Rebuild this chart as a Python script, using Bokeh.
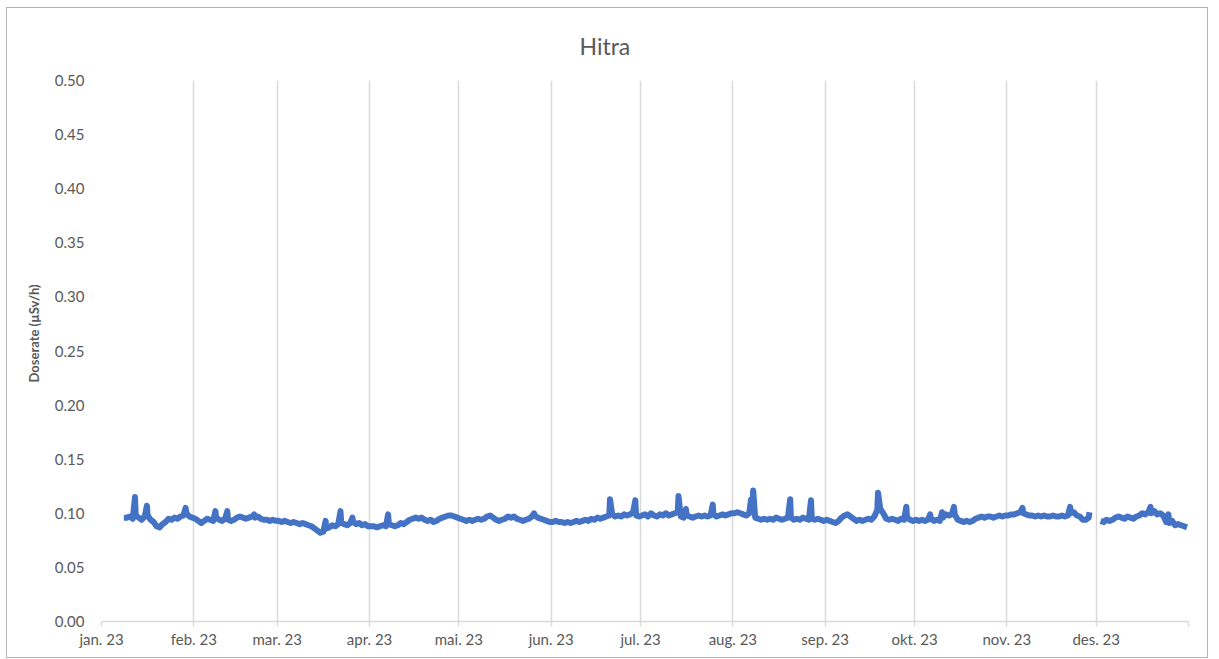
import numpy as np
import pandas as pd
from bokeh.plotting import figure
from bokeh.models import FixedTicker, Range1d, NumeralTickFormatter, ColumnDataSource, Title
from bokeh.embed import file_html
from bokeh.resources import INLINE

# ---------------- data (daily readings, µSv/h) ----------------
jan_start = "2023-01-08"
jan_vals = [0.096, 0.096, 0.097, 0.095, 0.098, 0.096, 0.094, 0.097, 0.098, 0.094, 0.092,
            0.088, 0.087, 0.090, 0.092, 0.095, 0.094, 0.096, 0.095, 0.097, 0.098, 0.100,
            0.097, 0.096]
feb_start = "2023-02-01"
feb_vals = [0.095, 0.093, 0.091, 0.093, 0.095, 0.094, 0.093, 0.096, 0.094, 0.093, 0.095,
            0.094, 0.093, 0.094, 0.096, 0.097, 0.096, 0.095, 0.096, 0.097, 0.096, 0.097,
            0.095, 0.094, 0.094, 0.093, 0.094, 0.093]
mar_start = "2023-03-01"
mar_vals = [0.093, 0.092, 0.093, 0.092, 0.091, 0.092, 0.091, 0.090, 0.091, 0.090, 0.089,
            0.088, 0.086, 0.084, 0.082, 0.083, 0.086, 0.087, 0.089, 0.088, 0.090, 0.091,
            0.090, 0.089, 0.091, 0.092, 0.090, 0.091, 0.089, 0.090, 0.088]
apr_start = "2023-04-01"
apr_vals = [0.088, 0.088, 0.087, 0.088, 0.089, 0.088, 0.090, 0.089, 0.088, 0.089, 0.091,
            0.090, 0.092, 0.094, 0.095, 0.096, 0.095, 0.096, 0.094, 0.093, 0.094, 0.092,
            0.093, 0.095, 0.096, 0.097, 0.098, 0.098, 0.097, 0.096]
may_start = "2023-05-01"
may_vals = [0.095, 0.094, 0.093, 0.094, 0.093, 0.094, 0.095, 0.094, 0.095, 0.097, 0.098,
            0.096, 0.094, 0.093, 0.094, 0.095, 0.097, 0.096, 0.097, 0.095, 0.094, 0.093,
            0.094, 0.095, 0.097, 0.098, 0.096, 0.095, 0.094, 0.093, 0.092]
jun_start = "2023-06-01"
jun_vals = [0.092, 0.093, 0.092, 0.092, 0.091, 0.092, 0.091, 0.092, 0.093, 0.092, 0.093,
            0.094, 0.093, 0.095, 0.094, 0.096, 0.095, 0.096, 0.097, 0.098, 0.099, 0.097,
            0.098, 0.097, 0.099, 0.098, 0.099, 0.101, 0.098, 0.097]
jul_start = "2023-07-01"
jul_vals = [0.098, 0.099, 0.097, 0.100, 0.098, 0.097, 0.099, 0.098, 0.100, 0.098, 0.099,
            0.100, 0.101, 0.097, 0.096, 0.098, 0.097, 0.096, 0.097, 0.098, 0.097, 0.098,
            0.097, 0.098, 0.099, 0.097, 0.098, 0.099, 0.098, 0.099, 0.100]
aug_start = "2023-08-01"
aug_vals = [0.100, 0.101, 0.100, 0.099, 0.098, 0.100, 0.103, 0.096, 0.095, 0.094, 0.095,
            0.094, 0.095, 0.094, 0.096, 0.095, 0.094, 0.095, 0.096, 0.096, 0.094, 0.095,
            0.094, 0.096, 0.095, 0.094, 0.095, 0.094, 0.095, 0.094, 0.093]
sep_start = "2023-09-01"
sep_vals = [0.094, 0.093, 0.092, 0.091, 0.093, 0.096, 0.098, 0.099, 0.097, 0.095, 0.093,
            0.094, 0.093, 0.094, 0.095, 0.094, 0.097, 0.103, 0.104, 0.100, 0.095, 0.094,
            0.095, 0.094, 0.093, 0.095, 0.094, 0.096, 0.094, 0.093]
oct_start = "2023-10-01"
oct_vals = [0.094, 0.093, 0.094, 0.093, 0.094, 0.095, 0.093, 0.094, 0.093, 0.096, 0.099,
            0.098, 0.099, 0.099, 0.094, 0.093, 0.092, 0.093, 0.092, 0.093, 0.095, 0.096,
            0.097, 0.096, 0.097, 0.097, 0.096, 0.097, 0.098, 0.097, 0.098]
nov_start = "2023-11-01"
nov_vals = [0.098, 0.099, 0.099, 0.100, 0.101, 0.100, 0.099, 0.098, 0.098, 0.097, 0.098,
            0.097, 0.098, 0.097, 0.097, 0.098, 0.097, 0.097, 0.098, 0.097, 0.098, 0.100,
            0.101, 0.098, 0.097, 0.094, 0.094, 0.096]
gap_date = "2023-11-30 12:00"   # no measurements (instrument outage)
dec_start = "2023-12-02"
dec_vals = [0.093, 0.092, 0.094, 0.093, 0.094, 0.096, 0.097, 0.096, 0.095, 0.097, 0.096,
            0.095, 0.097, 0.098, 0.100, 0.099, 0.101, 0.100, 0.102, 0.099, 0.100, 0.098,
            0.092, 0.091, 0.093, 0.089, 0.090, 0.089, 0.088, 0.087]

# short-lived peaks (hourly maxima)
spike_times = ["2023-01-12 06:00", "2023-01-16 06:00", "2023-01-29 06:00", "2023-02-08 06:00",
               "2023-02-12 06:00", "2023-02-21 06:00", "2023-03-17 06:00", "2023-03-22 06:00",
               "2023-03-26 06:00", "2023-04-07 06:00", "2023-05-26 06:00", "2023-06-20 18:00",
               "2023-06-29 06:00", "2023-07-13 18:00", "2023-07-16 06:00", "2023-07-25 06:00",
               "2023-08-07 03:00", "2023-08-07 20:00", "2023-08-20 06:00", "2023-08-27 06:00",
               "2023-09-18 18:00", "2023-09-28 06:00", "2023-10-06 06:00", "2023-10-10 06:00",
               "2023-10-14 06:00", "2023-11-06 06:00", "2023-11-22 06:00", "2023-11-28 18:00",
               "2023-12-19 06:00", "2023-12-25 06:00"]
spike_vals = [0.115, 0.107, 0.105, 0.102, 0.102, 0.099, 0.093, 0.102, 0.096, 0.099, 0.100,
              0.113, 0.112, 0.116, 0.104, 0.108, 0.113, 0.121, 0.113, 0.112, 0.119, 0.106,
              0.099, 0.101, 0.106, 0.105, 0.106, 0.101, 0.106, 0.099]

month_ticks = ["2023-01-01", "2023-02-01", "2023-03-01", "2023-04-01", "2023-05-01",
               "2023-06-01", "2023-07-01", "2023-08-01", "2023-09-01", "2023-10-01",
               "2023-11-01", "2023-12-01", "2024-01-01"]
month_labels = ["jan. 23", "feb. 23", "mar. 23", "apr. 23", "mai. 23", "jun. 23", "jul. 23",
                "aug. 23", "sep. 23", "okt. 23", "nov. 23", "des. 23", ""]
y_ticks = [0.0, 0.05, 0.10, 0.15, 0.20, 0.25, 0.30, 0.35, 0.40, 0.45, 0.50]

# ---------------- build series ----------------
def ms(ts):
    return pd.Timestamp(ts).value / 1e6

times, vals = [], []
for start, arr in [(jan_start, jan_vals), (feb_start, feb_vals), (mar_start, mar_vals),
                   (apr_start, apr_vals), (may_start, may_vals), (jun_start, jun_vals),
                   (jul_start, jul_vals), (aug_start, aug_vals), (sep_start, sep_vals),
                   (oct_start, oct_vals), (nov_start, nov_vals), (dec_start, dec_vals)]:
    base = pd.Timestamp(start) + pd.Timedelta(hours=12)
    for i, v in enumerate(arr):
        times.append(ms(base + pd.Timedelta(days=i)))
        vals.append(v)
times.append(ms(gap_date)); vals.append(np.nan)
for t, v in zip(spike_times, spike_vals):
    times.append(ms(t)); vals.append(v)

order = np.argsort(times)
t_arr = np.array(times)[order]
v_arr = np.array(vals, dtype=float)[order]
src = ColumnDataSource(dict(t=t_arr, v=v_arr))

tick_ms = [ms(t) for t in month_ticks]

FONT = "Lato"
GREY = "#595959"

# ---------------- figure ----------------
p = figure(width=1202, height=651, output_backend="svg", toolbar_location=None,
           x_range=Range1d(tick_ms[0], tick_ms[-1]), y_range=Range1d(0, 0.5),
           min_border_left=94, min_border_right=21, min_border_top=72, min_border_bottom=38,
           background_fill_color="white", border_fill_color="white")
p.styles = {"border": "1px solid #b4b4b4", "margin-left": "6px", "margin-top": "7px"}
p.outline_line_color = None

p.title.text = "Hitra"
p.title.align = "left"
p.title.offset = 478
p.title.standoff = 42
p.title.text_font = FONT
p.title.text_font_size = "23px"
p.title.text_font_style = "normal"
p.title.text_color = GREY

p.line(x="t", y="v", source=src, line_color="#4472C4", line_width=6, line_join="round")

# x axis
xa = p.xaxis[0]
xa.ticker = FixedTicker(ticks=tick_ms, minor_ticks=[])
xa.major_label_overrides = {float(t): lab for t, lab in zip(tick_ms, month_labels)}
xa.axis_line_color = "#d9d9d9"
xa.axis_line_width = 1.5
xa.major_tick_line_color = "#d9d9d9"
xa.major_tick_line_width = 1.5
xa.major_tick_in = 0
xa.major_tick_out = 5
xa.minor_tick_line_color = None
xa.major_label_text_font = FONT
xa.major_label_text_font_size = "15px"
xa.major_label_text_color = GREY
xa.major_label_standoff = 3

# y axis
ya = p.yaxis[0]
ya.ticker = FixedTicker(ticks=y_ticks, minor_ticks=[])
ya.formatter = NumeralTickFormatter(format="0.00")
ya.axis_line_color = None
ya.major_tick_line_color = None
ya.minor_tick_line_color = None
ya.major_label_text_font = FONT
ya.major_label_text_font_size = "15px"
ya.major_label_text_color = GREY
ya.major_label_standoff = 11

# y-axis title (placed as a side title so it can sit where the original has it)
ytitle = Title(text="Doserate (µSv/h)", align="left", offset=239, standoff=19,
               text_font=FONT, text_font_size="13px", text_font_style="bold",
               text_color=GREY)
p.add_layout(ytitle, "left")

# grids
p.xgrid.grid_line_color = "#d9d9d9"
p.xgrid.grid_line_width = 1.5
p.ygrid.grid_line_color = None

open("out.html", "w").write(file_html(p, INLINE))
